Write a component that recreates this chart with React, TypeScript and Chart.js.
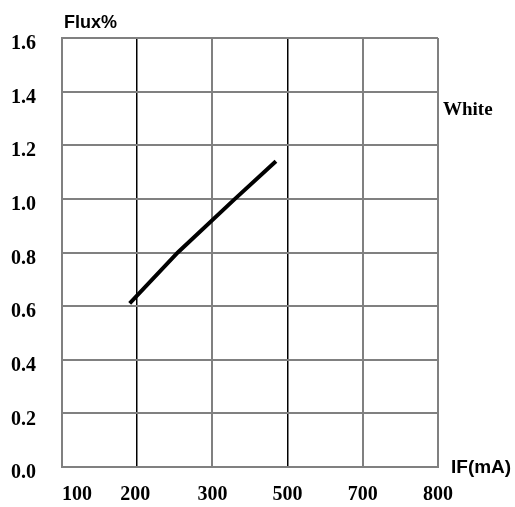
import React, { useEffect, useRef } from "react";
import { Chart, registerables } from "chart.js";

Chart.register(...registerables);

// X-axis tick labels (mA), evenly spaced on the chart
const xTickLabels = ["100", "200", "300", "500", "700", "800"];
const xTickValues = [100, 200, 300, 500, 700, 800];
// Y-axis ticks
const yMin = 0;
const yMax = 1.6;
const yStep = 0.2;
// White LED series: forward current (mA) and relative flux
const whiteIF = [190, 254, 360, 469];
const whiteFlux = [0.61, 0.8, 1.0, 1.14];

const seriesLabel = "White";
const xTitle = "IF(mA)";
const yTitle = "Flux%";

// map mA onto the evenly spaced tick positions
function toAxisPos(mA: number): number {
  for (let i = 0; i < xTickValues.length - 1; i++) {
    const a = xTickValues[i];
    const b = xTickValues[i + 1];
    if (mA <= b || i === xTickValues.length - 2) {
      return i + (mA - a) / (b - a);
    }
  }
  return 0;
}

const SERIF = '"Liberation Serif", "Times New Roman", serif';
const SANS = '"Liberation Sans", Arial, sans-serif';
const GRAY = "#808080";

export default function App() {
  const ref = useRef<HTMLCanvasElement>(null);

  useEffect(() => {
    if (!ref.current) return;
    const textPlugin = {
      id: "textPlugin",
      afterDraw(chart: any) {
        const ctx = chart.ctx;
        const xs = chart.scales.x;
        const area = chart.chartArea;
        ctx.save();
        ctx.fillStyle = "#000";
        ctx.font = `bold 20px ${SERIF}`;
        ctx.textBaseline = "middle";
        xTickLabels.forEach((lab, i) => {
          const px = xs.getPixelForValue(i);
          ctx.textAlign = i === 0 ? "left" : "center";
          ctx.fillText(lab, i === 0 ? px : px - (i === 1 ? 2 : 0), area.bottom + 28);
        });
        ctx.textAlign = "left";
        ctx.font = `bold 18px ${SANS}`;
        ctx.fillText(yTitle, area.left + 2, area.top - 15);
        ctx.font = `bold 19px ${SANS}`;
        ctx.fillText(xTitle, area.right + 13, area.bottom + 1);
        ctx.font = `bold 19px ${SERIF}`;
        ctx.fillText(seriesLabel, area.right + 5, chart.scales.y.getPixelForValue(1.33));
        ctx.restore();
      },
    };

    const chart = new Chart(ref.current, {
      type: "line",
      data: {
        datasets: [
          {
            label: seriesLabel,
            data: whiteIF.map((v, i) => ({ x: toAxisPos(v), y: whiteFlux[i] })),
            borderColor: "#000",
            borderWidth: 4,
            pointRadius: 0,
            tension: 0,
            fill: false,
          },
        ],
      },
      options: {
        animation: false,
        responsive: false,
        layout: { padding: { left: 0, top: 38, right: 77, bottom: 40 } },
        plugins: { legend: { display: false }, tooltip: { enabled: false } },
        scales: {
          x: {
            type: "linear",
            min: 0,
            max: xTickLabels.length - 1,
            ticks: { display: false, stepSize: 1 },
            grid: {
              drawTicks: false,
              color: (c: any) => (c.tick && (c.tick.value === 1 || c.tick.value === 3) ? "#000" : GRAY),
              lineWidth: (c: any) => (c.tick && (c.tick.value === 1 || c.tick.value === 3) ? 1.5 : 2),
            },
            border: { color: GRAY, width: 2 },
          },
          y: {
            type: "linear",
            min: yMin,
            max: yMax,
            afterFit: (s: any) => {
              s.width = 62;
            },
            ticks: {
              stepSize: yStep,
              padding: 26,
              labelOffset: 6,
              color: "#000",
              font: { family: SERIF, size: 20, weight: "bold" },
              callback: (v: any) => Number(v).toFixed(1),
            },
            grid: { drawTicks: false, color: GRAY, lineWidth: 2 },
            border: { color: GRAY, width: 2 },
          },
        },
      },
      plugins: [textPlugin],
    });
    return () => chart.destroy();
  }, []);

  return (
    <div style={{ position: "fixed", left: 0, top: 0, width: 515, height: 507, background: "#fff" }}>
      <canvas ref={ref} width={515} height={507} />
    </div>
  );
}
